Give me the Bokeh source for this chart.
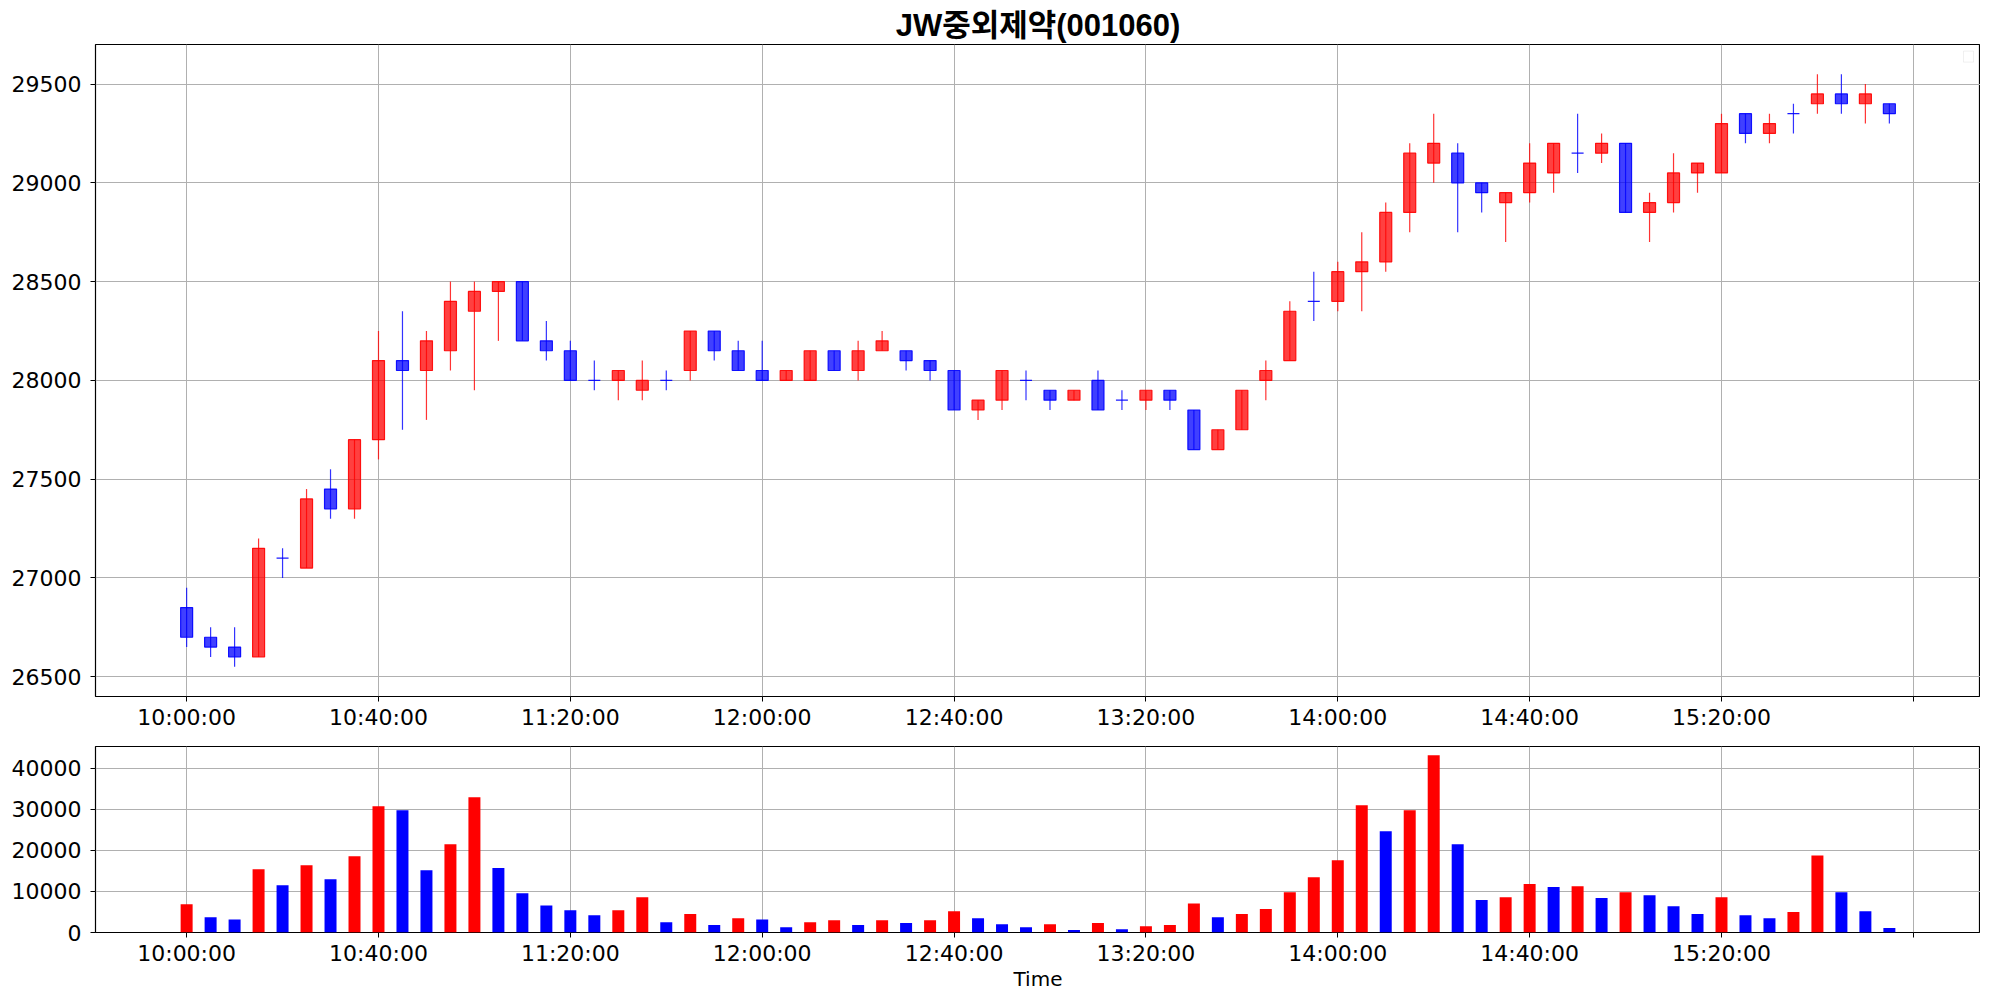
from bokeh.plotting import figure
from bokeh.layouts import column
from bokeh.models import ColumnDataSource, Range1d, FixedTicker, PrintfTickFormatter, BoxAnnotation
from bokeh.embed import file_html
from bokeh.resources import INLINE

# ---------------- data ----------------
title_text = "JW중외제약(001060)"
tick_idx = [0, 8, 16, 24, 32, 40, 48, 56, 64, 72]
tick_labels = ["10:00:00", "10:40:00", "11:20:00", "12:00:00", "12:40:00",
               "13:20:00", "14:00:00", "14:40:00", "15:20:00", ""]
price_ticks = [26500, 27000, 27500, 28000, 28500, 29000, 29500]
volume_ticks = [0, 10000, 20000, 30000, 40000]

opens = [26850, 26700, 26650, 26600, 27100, 27050, 27450, 27350, 27700, 28100,
         28050, 28150, 28350, 28450, 28500, 28200, 28150, 28000, 28000, 27950,
         28000, 28050, 28250, 28150, 28050, 28000, 28000, 28150, 28050, 28150,
         28150, 28100, 28050, 27850, 27900, 28000, 27950, 27900, 28000, 27900,
         27900, 27950, 27850, 27650, 27750, 28000, 28100, 28400, 28400, 28550,
         28600, 28850, 29100, 29150, 29000, 28900, 28950, 29050, 29150, 29150,
         29200, 28850, 28900, 29050, 29050, 29350, 29250, 29350, 29400, 29450,
         29400, 29400]
highs = [26950, 26750, 26750, 27200, 27150, 27450, 27550, 27700, 28250, 28350,
         28250, 28500, 28500, 28500, 28500, 28300, 28200, 28100, 28050, 28100,
         28050, 28250, 28250, 28200, 28200, 28050, 28150, 28150, 28200, 28250,
         28150, 28100, 28050, 27900, 28050, 28050, 27950, 27950, 28050, 27950,
         27950, 27950, 27850, 27750, 27950, 28100, 28400, 28550, 28600, 28750,
         28900, 29200, 29350, 29200, 29000, 28950, 29200, 29200, 29350, 29250,
         29200, 28950, 29150, 29100, 29350, 29350, 29350, 29400, 29550, 29550,
         29500, 29400]
lows = [26650, 26600, 26550, 26600, 27000, 27050, 27300, 27300, 27600, 27750,
        27800, 28050, 27950, 28200, 28200, 28100, 28000, 27950, 27900, 27900,
        27950, 28000, 28100, 28050, 28000, 28000, 28000, 28050, 28000, 28150,
        28050, 28000, 27850, 27800, 27850, 27900, 27850, 27900, 27850, 27850,
        27850, 27850, 27650, 27650, 27750, 27900, 28100, 28300, 28350, 28350,
        28550, 28750, 29000, 28750, 28850, 28700, 28900, 28950, 29050, 29100,
        28850, 28700, 28850, 28950, 29050, 29200, 29200, 29250, 29350, 29350,
        29300, 29300]
closes = [26700, 26650, 26600, 27150, 27100, 27400, 27350, 27700, 28100, 28050,
          28200, 28400, 28450, 28500, 28200, 28150, 28000, 28000, 28050, 28000,
          28000, 28250, 28150, 28050, 28000, 28050, 28150, 28050, 28150, 28200,
          28100, 28050, 27850, 27900, 28050, 28000, 27900, 27950, 27850, 27900,
          27950, 27900, 27650, 27750, 27950, 28050, 28350, 28400, 28550, 28600,
          28850, 29150, 29200, 29000, 28950, 28950, 29100, 29200, 29150, 29200,
          28850, 28900, 29050, 29100, 29300, 29250, 29300, 29350, 29450, 29400,
          29450, 29350]
volumes = [6900, 3700, 3200, 15400, 11500, 16400, 13000, 18600, 30800, 29800,
           15200, 21500, 33000, 15700, 9600, 6600, 5400, 4200, 5400, 8600,
           2500, 4500, 1800, 3500, 3200, 1300, 2500, 3000, 1800, 3000,
           2300, 3000, 5200, 3500, 2000, 1300, 2000, 600, 2300, 800,
           1500, 1800, 7100, 3700, 4500, 5700, 9800, 13500, 17600, 31000,
           24700, 29800, 43200, 21500, 7900, 8600, 11800, 11100, 11300, 8400,
           9800, 9100, 6400, 4500, 8600, 4200, 3500, 5000, 18800, 9800,
           5200, 1100]
volume_up = [1, 0, 0, 1, 0, 1, 0, 1, 1, 0,
             0, 1, 1, 0, 0, 0, 0, 0, 1, 1,
             0, 1, 0, 1, 0, 0, 1, 1, 0, 1,
             0, 1, 1, 0, 0, 0, 1, 0, 1, 0,
             1, 1, 1, 0, 1, 1, 1, 1, 1, 1,
             0, 1, 1, 0, 0, 1, 1, 0, 1, 0,
             1, 0, 0, 0, 1, 0, 0, 1, 1, 0,
             0, 0]

# ---------------- styles ----------------
UP = "#ff0000"
DOWN = "#0000ff"
TICK_FONT = "DejaVu Sans"
TICK_SIZE = "22px"

n = len(opens)
xs = list(range(n))
candle_colors = [UP if c > o else DOWN for o, c in zip(opens, closes)]
src = ColumnDataSource(dict(
    x=xs, o=opens, h=highs, l=lows, c=closes,
    top=[max(o, c) for o, c in zip(opens, closes)],
    bottom=[min(o, c) for o, c in zip(opens, closes)],
    color=candle_colors,
))
vsrc = ColumnDataSource(dict(
    x=xs, v=volumes, color=[UP if u else DOWN for u in volume_up]
))

x_range = Range1d(-3.8, 74.8)
W = 1980
LEFT = 95


def style(p):
    p.outline_line_color = "black"
    p.outline_line_width = 1.2
    p.background_fill_color = "white"
    p.border_fill_color = "white"
    for ax in (p.xaxis[0], p.yaxis[0]):
        ax.axis_line_color = None
        ax.major_tick_in = 0
        ax.major_tick_out = 5
        ax.minor_tick_line_color = None
        ax.major_tick_line_color = "black"
        ax.major_tick_line_width = 1
        ax.major_label_text_font = TICK_FONT
        ax.major_label_text_font_size = TICK_SIZE
        ax.major_label_text_color = "black"
    p.xaxis[0].ticker = FixedTicker(ticks=tick_idx)
    p.xaxis[0].major_label_overrides = {i: lab for i, lab in zip(tick_idx, tick_labels)}
    p.xaxis[0].major_label_standoff = 3
    p.yaxis[0].major_label_standoff = 9
    p.yaxis[0].formatter = PrintfTickFormatter(format="%d")
    p.xgrid.ticker = FixedTicker(ticks=tick_idx)
    for g in (p.xgrid[0], p.ygrid[0]):
        g.grid_line_color = "#b0b0b0"
        g.grid_line_width = 1


# ---------------- price chart ----------------
p1 = figure(width=W, height=735, x_range=x_range, y_range=Range1d(26400, 29700),
            output_backend="svg", toolbar_location=None, title=title_text,
            min_border_left=LEFT, min_border_right=0, min_border_top=44, min_border_bottom=39)
p1.title.align = "center"
p1.title.text_font = "Liberation Sans, Noto Sans CJK KR"
p1.title.text_font_size = "31px"
p1.title.text_font_style = "bold"
p1.title.text_color = "black"
p1.title.standoff = 3
p1.title.offset = 0
style(p1)
p1.yaxis[0].ticker = FixedTicker(ticks=price_ticks)

p1.segment(x0="x", y0="l", x1="x", y1="h", source=src, line_color="color",
           line_width=1.2, line_alpha=0.8)
p1.vbar(x="x", width=0.5, top="top", bottom="bottom", source=src,
        fill_color="color", fill_alpha=0.75, line_color="color", line_alpha=0.9,
        line_width=1.2)

# empty legend frame in the upper-right corner
px_x = (x_range.end - x_range.start) / (W - LEFT)
px_y = (29700 - 26400) / 652
p1.add_layout(BoxAnnotation(left=x_range.end - 17 * px_x, right=x_range.end - 7 * px_x,
                            top=29700 - 6.6 * px_y, bottom=29700 - 17.6 * px_y,
                            fill_color="white", fill_alpha=1.0,
                            line_color="#cccccc", line_width=1))

# ---------------- volume chart ----------------
p2 = figure(width=W, height=263, x_range=x_range, y_range=Range1d(0, 45350),
            output_backend="svg", toolbar_location=None,
            min_border_left=LEFT, min_border_right=0, min_border_top=11, min_border_bottom=66)
style(p2)
p2.yaxis[0].ticker = FixedTicker(ticks=volume_ticks)
p2.xaxis[0].axis_label = "Time"
p2.xaxis[0].axis_label_text_font = TICK_FONT
p2.xaxis[0].axis_label_text_font_size = "20px"
p2.xaxis[0].axis_label_text_font_style = "normal"
p2.xaxis[0].axis_label_text_color = "black"
p2.xaxis[0].axis_label_standoff = -2

p2.vbar(x="x", width=0.5, top="v", bottom=0, source=vsrc,
        fill_color="color", line_color=None)

layout = column(p1, p2, spacing=0)
open("out.html", "w").write(file_html(layout, INLINE))
